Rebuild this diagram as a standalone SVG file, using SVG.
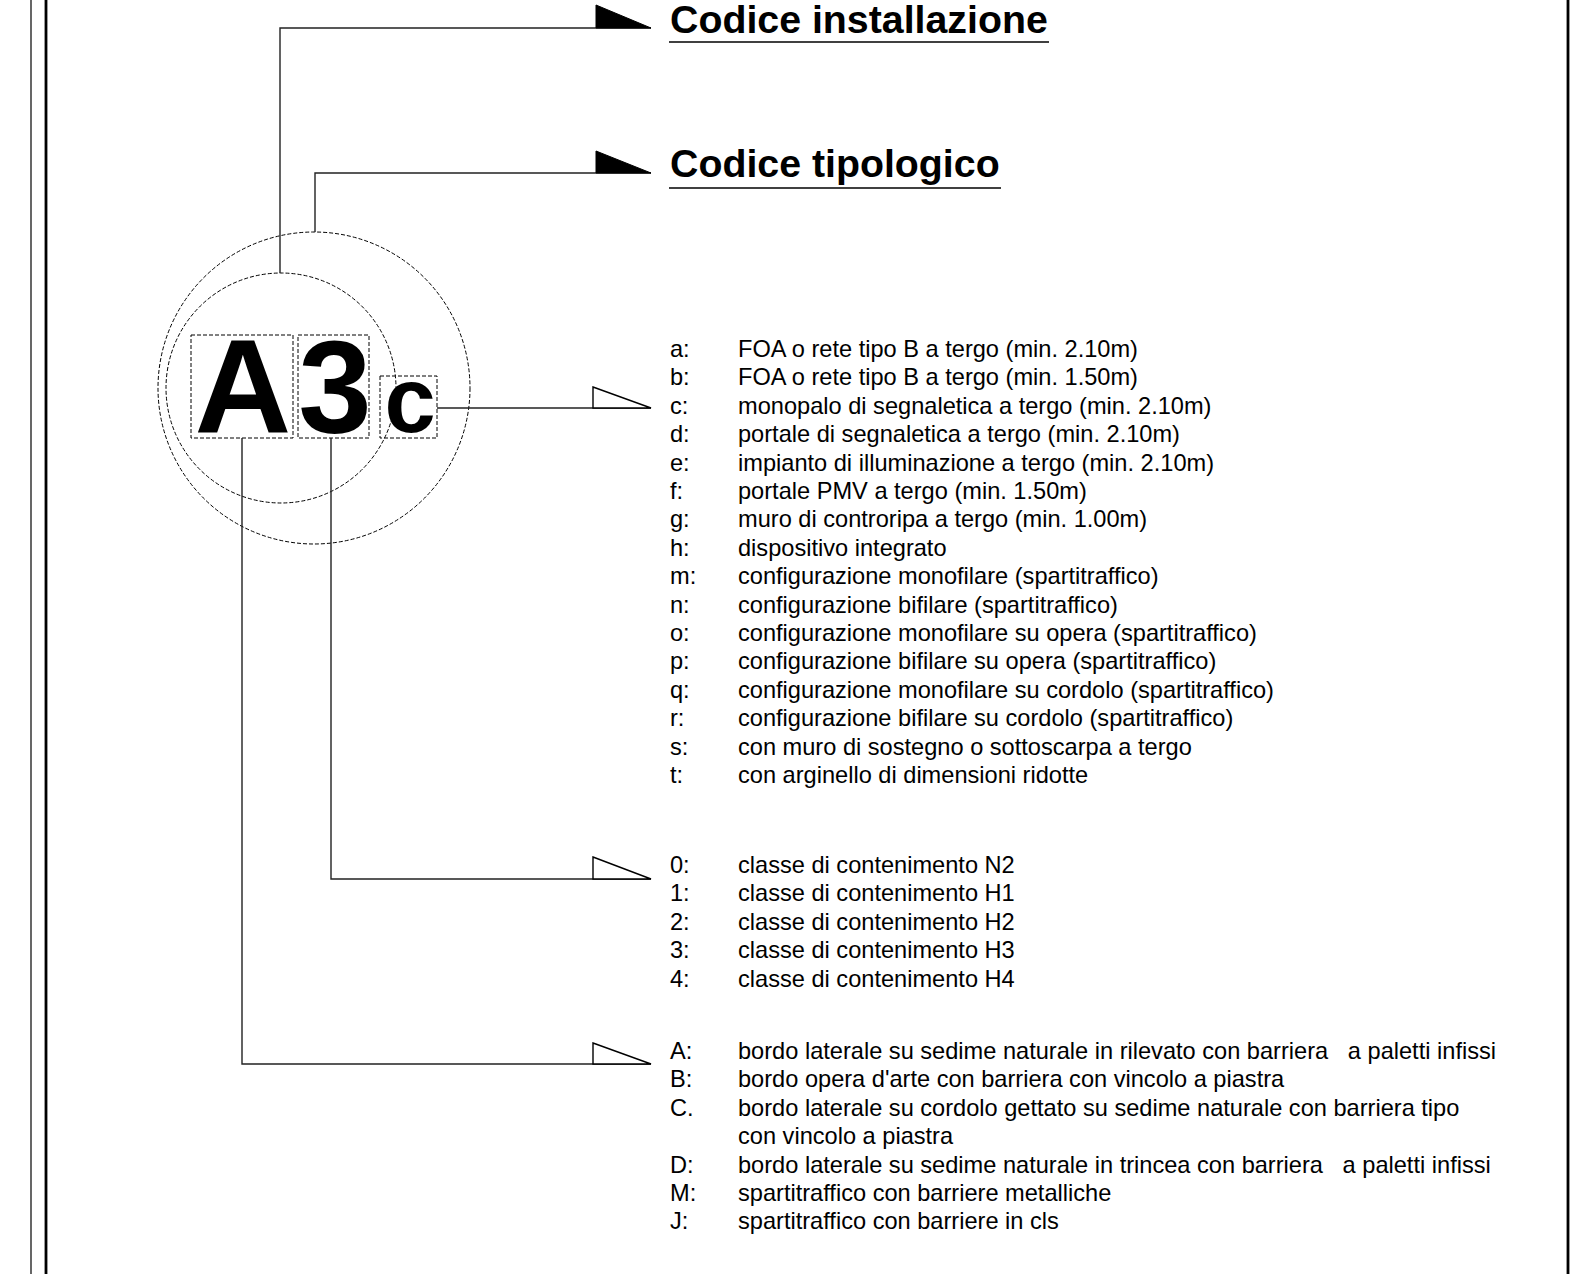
<svg xmlns="http://www.w3.org/2000/svg" width="1577" height="1274" viewBox="0 0 1577 1274">
<style>
.title{font-family:"Liberation Sans",Arial,sans-serif;font-weight:bold;font-size:39.3px;fill:#000}
.item{font-family:"Liberation Sans",Arial,sans-serif;font-size:23.6px;fill:#000;white-space:pre}
.big{font-family:"Liberation Sans",Arial,sans-serif;font-weight:bold;fill:#000;text-anchor:middle}
.dash{fill:none;stroke:#000;stroke-width:1;stroke-dasharray:4 2}
.ln{fill:none;stroke:#222;stroke-width:1.4}
.tri{fill:#fff;stroke:#000;stroke-width:1.4}
.ftri{fill:#000;stroke:#000;stroke-width:1}
</style>
<rect width="1577" height="1274" fill="#fff"/>
<g id="frame">
<line x1="31" y1="0" x2="31" y2="1274" stroke="#000" stroke-width="1.2"/>
<line x1="46" y1="0" x2="46" y2="1274" stroke="#000" stroke-width="2.8"/>
<line x1="1568" y1="0" x2="1568" y2="1274" stroke="#000" stroke-width="2.8"/>
</g>
<g id="symbol">
<circle class="dash" cx="314" cy="388" r="156"/>
<circle class="dash" cx="281" cy="388" r="115"/>
<rect class="dash" x="191" y="335" width="102" height="103"/>
<rect class="dash" x="298" y="335" width="71" height="103"/>
<rect class="dash" x="380" y="376" width="57" height="62"/>
<text class="big" x="243" y="433" font-size="134">A</text>
<text class="big" x="335" y="433" font-size="132">3</text>
<text class="big" x="410" y="432" font-size="92">c</text>
</g>
<g id="connectors">
<polyline class="ln" points="280,273 280,28 651,28"/>
<polygon class="ftri" points="596,5 651,28 596,28"/>
<polyline class="ln" points="315,232 315,173 651,173"/>
<polygon class="ftri" points="596,151 651,173 596,173"/>
<polyline class="ln" points="437,408 651,408"/>
<polygon class="tri" points="593,387 651,408 593,408"/>
<polyline class="ln" points="331,438 331,879 651,879"/>
<polygon class="tri" points="593,857 651,879 593,879"/>
<polyline class="ln" points="242,438 242,1064 651,1064"/>
<polygon class="tri" points="593,1043 651,1064 593,1064"/>
</g>
<g id="title-installazione">
<text class="title" x="670" y="33">Codice installazione</text>
<line x1="669" y1="42" x2="1049" y2="42" stroke="#000" stroke-width="1.4"/>
</g>
<g id="title-tipologico">
<text class="title" x="670" y="177">Codice tipologico</text>
<line x1="669" y1="188" x2="1001" y2="188" stroke="#000" stroke-width="1.4"/>
</g>
<g id="legend-letters">
<text class="item" x="670" y="357">a:</text><text class="item" x="738" y="357">FOA o rete tipo B a tergo (min. 2.10m)</text>
<text class="item" x="670" y="385.4">b:</text><text class="item" x="738" y="385.4">FOA o rete tipo B a tergo (min. 1.50m)</text>
<text class="item" x="670" y="413.8">c:</text><text class="item" x="738" y="413.8">monopalo di segnaletica a tergo (min. 2.10m)</text>
<text class="item" x="670" y="442.2">d:</text><text class="item" x="738" y="442.2">portale di segnaletica a tergo (min. 2.10m)</text>
<text class="item" x="670" y="470.6">e:</text><text class="item" x="738" y="470.6">impianto di illuminazione a tergo (min. 2.10m)</text>
<text class="item" x="670" y="499">f:</text><text class="item" x="738" y="499">portale PMV a tergo (min. 1.50m)</text>
<text class="item" x="670" y="527.4">g:</text><text class="item" x="738" y="527.4">muro di controripa a tergo (min. 1.00m)</text>
<text class="item" x="670" y="555.8">h:</text><text class="item" x="738" y="555.8">dispositivo integrato</text>
<text class="item" x="670" y="584.2">m:</text><text class="item" x="738" y="584.2">configurazione monofilare (spartitraffico)</text>
<text class="item" x="670" y="612.6">n:</text><text class="item" x="738" y="612.6">configurazione bifilare (spartitraffico)</text>
<text class="item" x="670" y="641">o:</text><text class="item" x="738" y="641">configurazione monofilare su opera (spartitraffico)</text>
<text class="item" x="670" y="669.4">p:</text><text class="item" x="738" y="669.4">configurazione bifilare su opera (spartitraffico)</text>
<text class="item" x="670" y="697.8">q:</text><text class="item" x="738" y="697.8">configurazione monofilare su cordolo (spartitraffico)</text>
<text class="item" x="670" y="726.2">r:</text><text class="item" x="738" y="726.2">configurazione bifilare su cordolo (spartitraffico)</text>
<text class="item" x="670" y="754.6">s:</text><text class="item" x="738" y="754.6">con muro di sostegno o sottoscarpa a tergo</text>
<text class="item" x="670" y="783">t:</text><text class="item" x="738" y="783">con arginello di dimensioni ridotte</text>
</g>
<g id="legend-digits">
<text class="item" x="670" y="873">0:</text><text class="item" x="738" y="873">classe di contenimento N2</text>
<text class="item" x="670" y="901.4">1:</text><text class="item" x="738" y="901.4">classe di contenimento H1</text>
<text class="item" x="670" y="929.8">2:</text><text class="item" x="738" y="929.8">classe di contenimento H2</text>
<text class="item" x="670" y="958.2">3:</text><text class="item" x="738" y="958.2">classe di contenimento H3</text>
<text class="item" x="670" y="986.6">4:</text><text class="item" x="738" y="986.6">classe di contenimento H4</text>
</g>
<g id="legend-capitals">
<text class="item" x="670" y="1059">A:</text><text class="item" x="738" y="1059">bordo laterale su sedime naturale in rilevato con barriera   a paletti infissi</text>
<text class="item" x="670" y="1087.4">B:</text><text class="item" x="738" y="1087.4">bordo opera d'arte con barriera con vincolo a piastra</text>
<text class="item" x="670" y="1115.8">C.</text><text class="item" x="738" y="1115.8">bordo laterale su cordolo gettato su sedime naturale con barriera tipo</text>
<text class="item" x="738" y="1144.2">con vincolo a piastra</text>
<text class="item" x="670" y="1172.6">D:</text><text class="item" x="738" y="1172.6">bordo laterale su sedime naturale in trincea con barriera   a paletti infissi</text>
<text class="item" x="670" y="1201">M:</text><text class="item" x="738" y="1201">spartitraffico con barriere metalliche</text>
<text class="item" x="670" y="1229.4">J:</text><text class="item" x="738" y="1229.4">spartitraffico con barriere in cls</text>
</g>
</svg>
